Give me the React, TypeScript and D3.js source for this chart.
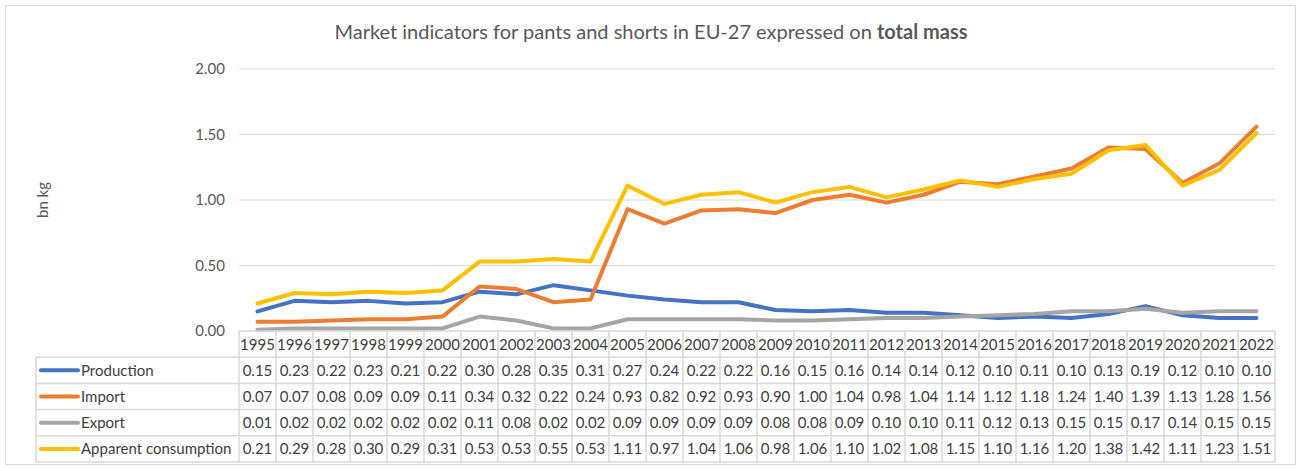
import React, { useEffect, useRef } from 'react';
import * as d3 from 'd3';

const years = ['1995', '1996', '1997', '1998', '1999', '2000', '2001', '2002', '2003', '2004', '2005', '2006', '2007', '2008', '2009', '2010', '2011', '2012', '2013', '2014', '2015', '2016', '2017', '2018', '2019', '2020', '2021', '2022'];

const production = [0.15, 0.23, 0.22, 0.23, 0.21, 0.22, 0.30, 0.28, 0.35, 0.31, 0.27, 0.24, 0.22, 0.22, 0.16, 0.15, 0.16, 0.14, 0.14, 0.12, 0.10, 0.11, 0.10, 0.13, 0.19, 0.12, 0.10, 0.10];
const imports = [0.07, 0.07, 0.08, 0.09, 0.09, 0.11, 0.34, 0.32, 0.22, 0.24, 0.93, 0.82, 0.92, 0.93, 0.90, 1.00, 1.04, 0.98, 1.04, 1.14, 1.12, 1.18, 1.24, 1.40, 1.39, 1.13, 1.28, 1.56];
const exports = [0.01, 0.02, 0.02, 0.02, 0.02, 0.02, 0.11, 0.08, 0.02, 0.02, 0.09, 0.09, 0.09, 0.09, 0.08, 0.08, 0.09, 0.10, 0.10, 0.11, 0.12, 0.13, 0.15, 0.15, 0.17, 0.14, 0.15, 0.15];
const consumption = [0.21, 0.29, 0.28, 0.30, 0.29, 0.31, 0.53, 0.53, 0.55, 0.53, 1.11, 0.97, 1.04, 1.06, 0.98, 1.06, 1.10, 1.02, 1.08, 1.15, 1.10, 1.16, 1.20, 1.38, 1.42, 1.11, 1.23, 1.51];

const yTicks = [0, 0.5, 1, 1.5, 2];

const series = [
  { name: 'Production', values: production, color: '#4472C4' },
  { name: 'Import', values: imports, color: '#ED7D31' },
  { name: 'Export', values: exports, color: '#A5A5A5' },
  { name: 'Apparent consumption', values: consumption, color: '#FFC000' },
];

const width = 1304,
  height = 468,
  plotLeft = 239,
  plotRight = 1275,
  plotTop = 69,
  plotBottom = 331,
  rowH = 26.2,
  tableLeft = 36,
  font = 'Lato, "Open Sans", sans-serif',
  fs = '15px';

export default function App() {
  const ref = useRef<SVGSVGElement>(null);

  useEffect(() => {
    const svg = d3.select(ref.current);
    svg.selectAll('*').remove();

    // chart frame
    svg.append('rect').attr('x', 5.5).attr('y', 5.5).attr('width', 1290).attr('height', 459)
      .attr('fill', '#fff').attr('stroke', '#D9D9D9').attr('stroke-width', 1);

    const xScale = d3.scaleBand().domain(years).range([plotLeft, plotRight]);
    const yScale = d3.scaleLinear().domain([0, 2]).range([plotBottom, plotTop]);

    // gridlines
    svg.append('g').selectAll('line').data(yTicks.slice(1)).join('line')
      .attr('x1', plotLeft).attr('x2', plotRight)
      .attr('y1', d => yScale(d)).attr('y2', d => yScale(d))
      .attr('stroke', '#D9D9D9').attr('stroke-width', 1);

    // y axis labels
    const yAxis = svg.append('g').attr('transform', `translate(${plotLeft - 2},0)`)
      .call(d3.axisLeft(yScale).tickValues(yTicks).tickFormat(d3.format('.2f')).tickSize(0).tickPadding(12));
    yAxis.select('.domain').remove();
    yAxis.selectAll('text').attr('fill', '#595959').style('font-family', font).style('font-size', fs);

    svg.append('text').attr('transform', `translate(48,${(plotTop + plotBottom) / 2}) rotate(-90)`)
      .attr('text-anchor', 'middle').attr('fill', '#595959')
      .style('font-family', font).style('font-size', fs).text('bn kg');

    // title
    const title = svg.append('text').attr('x', 651).attr('y', 39).attr('text-anchor', 'middle')
      .attr('fill', '#595959').style('font-family', font).style('font-size', '20px');
    title.append('tspan').text('Market indicators for pants and shorts in EU-27 expressed on ');
    title.append('tspan').attr('font-weight', 'bold').text('total mass');

    // lines
    const line = d3.line<number>()
      .x((d, i) => (xScale(years[i]) as number) + xScale.bandwidth() / 2)
      .y(d => yScale(d));
    svg.append('g').selectAll('path').data(series).join('path')
      .attr('d', d => line(d.values))
      .attr('fill', 'none').attr('stroke', d => d.color).attr('stroke-width', 4)
      .attr('stroke-linejoin', 'round').attr('stroke-linecap', 'round');

    // data table
    const table = svg.append('g');
    const grid = '#D9D9D9';
    const bottom = plotBottom + rowH * 5;
    table.selectAll('.vline').data(d3.range(years.length + 1)).join('line').attr('class', 'vline')
      .attr('x1', i => plotLeft + i * xScale.bandwidth()).attr('x2', i => plotLeft + i * xScale.bandwidth())
      .attr('y1', plotBottom).attr('y2', bottom)
      .attr('stroke', grid).attr('stroke-width', 1.5);
    table.append('line').attr('x1', tableLeft).attr('x2', tableLeft)
      .attr('y1', plotBottom + rowH).attr('y2', bottom).attr('stroke', grid).attr('stroke-width', 1.5);
    table.append('line').attr('x1', plotLeft).attr('x2', plotRight).attr('y1', plotBottom).attr('y2', plotBottom)
      .attr('stroke', grid).attr('stroke-width', 1.5);
    table.selectAll('.hline').data(d3.range(1, 6)).join('line').attr('class', 'hline')
      .attr('x1', tableLeft).attr('x2', plotRight)
      .attr('y1', i => plotBottom + i * rowH).attr('y2', i => plotBottom + i * rowH)
      .attr('stroke', grid).attr('stroke-width', 1.5);

    const cellText = (sel: any) => sel.attr('text-anchor', 'middle').attr('fill', '#404040')
      .style('font-family', font).style('font-size', fs);

    table.selectAll('.year').data(years).join('text').attr('class', 'year')
      .attr('x', d => (xScale(d) as number) + xScale.bandwidth() / 2)
      .attr('y', plotBottom + rowH / 2 + 5.5).call(cellText).text(d => d);

    series.forEach((s, r) => {
      const y = plotBottom + rowH * (r + 1);
      table.append('line').attr('x1', 41).attr('x2', 78).attr('y1', y + rowH / 2).attr('y2', y + rowH / 2)
        .attr('stroke', s.color).attr('stroke-width', 4).attr('stroke-linecap', 'round');
      table.append('text').attr('x', 81).attr('y', y + rowH / 2 + 5.5).attr('fill', '#404040')
        .style('font-family', font).style('font-size', fs).text(s.name);
      table.selectAll(`.v${r}`).data(s.values).join('text').attr('class', `v${r}`)
        .attr('x', (d, i) => (xScale(years[i]) as number) + xScale.bandwidth() / 2)
        .attr('y', y + rowH / 2 + 5.5).call(cellText).text(d => d3.format('.2f')(d));
    });
  }, []);

  return (
    <svg ref={ref} width={width} height={height} style={{ position: 'absolute', left: 0, top: 0 }} />
  );
}
